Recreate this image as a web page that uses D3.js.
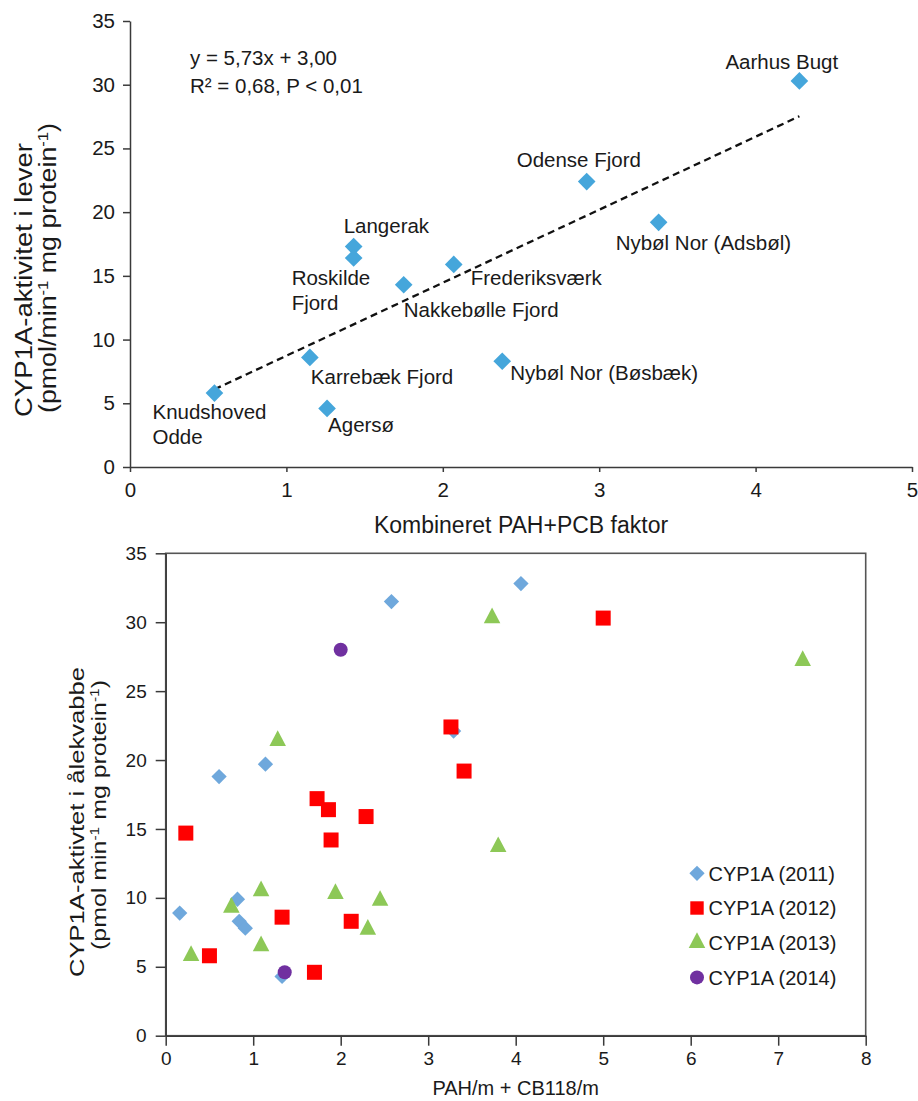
<!DOCTYPE html>
<html>
<head>
<meta charset="utf-8">
<script src="https://cdn.jsdelivr.net/npm/d3@7"></script>
<style>
  body { margin: 0; background: #fff; }
  svg { font-family: "Liberation Sans", Arial, sans-serif; }
</style>
</head>
<body>
<script>
// ---- top chart data (CYP1A in liver vs combined factor)
var sites = ["Aarhus Bugt", "Odense Fjord", "Nybøl Nor (Adsbøl)", "Langerak", "Roskilde Fjord",
             "Nakkebølle Fjord", "Frederiksværk", "Karrebæk Fjord", "Knudshoved Odde", "Agersø",
             "Nybøl Nor (Bøsbæk)"];
var factor = [4.28, 2.92, 3.38, 1.43, 1.43, 1.75, 2.07, 1.15, 0.54, 1.26, 2.38];
var liverCyp = [30.3, 22.4, 19.2, 17.3, 16.4, 14.3, 15.9, 8.6, 5.8, 4.6, 8.3];
var slope = 5.73, intercept = 3.00;
var eqLines = ["y = 5,73x + 3,00", "R² = 0,68, P < 0,01"];

// ---- bottom chart data (CYP1A in eelpout by year)
var years = ["2011", "2012", "2013", "2014"];
var x2011 = [2.58, 4.06, 0.61, 1.14, 3.29, 0.16, 0.82, 0.84, 0.91, 1.33];
var y2011 = [31.5, 32.8, 18.8, 19.7, 22.1, 8.9, 9.9, 8.3, 7.8, 4.3];
var x2012 = [5.0, 3.26, 3.41, 1.73, 1.86, 2.29, 1.89, 0.23, 1.33, 2.12, 0.5, 1.7];
var y2012 = [30.3, 22.4, 19.2, 17.2, 16.4, 15.9, 14.2, 14.7, 8.6, 8.3, 5.8, 4.6];
var x2013 = [3.73, 7.28, 1.28, 3.8, 1.09, 1.94, 2.45, 0.75, 2.31, 1.09, 0.29];
var y2013 = [30.3, 27.2, 21.4, 13.7, 10.5, 10.3, 9.8, 9.3, 7.7, 6.5, 5.8];
var x2014 = [2.0, 1.36];
var y2014 = [28.0, 4.6];

var xTicksTop = [0, 1, 2, 3, 4, 5];
var xTicksBottom = [0, 1, 2, 3, 4, 5, 6, 7, 8];
var yTicks = [0, 5, 10, 15, 20, 25, 30, 35];

// label placement, offsets from the marker in px
var labelPos = {
  "Aarhus Bugt": { dx: -74, dy: -12, lines: ["Aarhus Bugt"] },
  "Odense Fjord": { dx: -70, dy: -15, lines: ["Odense Fjord"] },
  "Nybøl Nor (Adsbøl)": { dx: -43, dy: 28, lines: ["Nybøl Nor (Adsbøl)"] },
  "Langerak": { dx: -10, dy: -14, lines: ["Langerak"] },
  "Roskilde Fjord": { dx: -62, dy: 27, lines: ["Roskilde", "Fjord"] },
  "Nakkebølle Fjord": { dx: 0, dy: 32, lines: ["Nakkebølle Fjord"] },
  "Frederiksværk": { dx: 17, dy: 21, lines: ["Frederiksværk"] },
  "Karrebæk Fjord": { dx: 1, dy: 27, lines: ["Karrebæk Fjord"] },
  "Knudshoved Odde": { dx: -62, dy: 26, lines: ["Knudshoved", "Odde"] },
  "Agersø": { dx: 1, dy: 24, lines: ["Agersø"] },
  "Nybøl Nor (Bøsbæk)": { dx: 8, dy: 19, lines: ["Nybøl Nor (Bøsbæk)"] }
};

var width = 918, height = 1101;
var axisColor = "#3a3a3a";

var svg = d3.select("body").append("svg")
  .attr("width", width)
  .attr("height", height);

// diamond = square turned 45 degrees
function diamondPath(size) { return d3.symbol(d3.symbolSquare, size)(); }

// triangle a bit taller than equilateral, centred on its centroid
var triangleType = {
  draw: function (ctx, size) {
    var w = Math.sqrt(size) * 1.45, h = Math.sqrt(size) * 1.38;
    ctx.moveTo(0, -h * 2 / 3);
    ctx.lineTo(w / 2, h / 3);
    ctx.lineTo(-w / 2, h / 3);
    ctx.closePath();
  }
};

function styleAxis(g, fontSize) {
  g.selectAll("path, line").attr("stroke", axisColor).attr("stroke-width", 1.5);
  g.selectAll("text").attr("fill", "#1a1a1a").attr("font-size", fontSize)
    .attr("font-family", "'Liberation Sans', Arial, sans-serif");
}

// ================= TOP CHART =================
var xTop = d3.scaleLinear().domain([0, 5]).range([130, 912]);
var yTop = d3.scaleLinear().domain([0, 35]).range([467, 21]);

var topG = svg.append("g");

topG.append("g")
  .attr("transform", "translate(0,467)")
  .call(d3.axisBottom(xTop).tickValues(xTicksTop).tickFormat(d3.format("d"))
    .tickSize(5).tickSizeOuter(0).tickPadding(10))
  .call(styleAxis, 20.5);

topG.append("g")
  .attr("transform", "translate(130,0)")
  .call(d3.axisLeft(yTop).tickValues(yTicks).tickFormat(d3.format("d"))
    .tickSize(7).tickSizeOuter(0).tickPadding(8))
  .call(styleAxis, 20.5);

// regression line over the data range
var xMin = d3.min(factor), xMax = d3.max(factor);
topG.append("line")
  .attr("x1", xTop(xMin)).attr("y1", yTop(slope * xMin + intercept))
  .attr("x2", xTop(xMax)).attr("y2", yTop(slope * xMax + intercept))
  .attr("stroke", "#111").attr("stroke-width", 2.3)
  .attr("stroke-dasharray", "7,4.5");

topG.append("g").selectAll("path")
  .data(sites)
  .join("path")
  .attr("d", diamondPath(156))
  .attr("transform", function (d, i) {
    return "translate(" + xTop(factor[i]) + "," + yTop(liverCyp[i]) + ") rotate(45)";
  })
  .attr("fill", "#45A6DB");

var labels = topG.append("g").selectAll("text")
  .data(sites)
  .join("text")
  .attr("font-size", 20.5)
  .attr("fill", "#1a1a1a")
  .attr("x", function (d, i) { return xTop(factor[i]) + labelPos[d].dx; })
  .attr("y", function (d, i) { return yTop(liverCyp[i]) + labelPos[d].dy; });

labels.each(function (d) {
  var t = d3.select(this), x0 = +t.attr("x");
  labelPos[d].lines.forEach(function (ln, k) {
    t.append("tspan").attr("x", x0).attr("dy", k ? 24.5 : 0).text(ln);
  });
});

topG.append("g").selectAll("text")
  .data(eqLines)
  .join("text")
  .attr("x", 190)
  .attr("y", function (d, i) { return 65 + i * 28; })
  .attr("font-size", 20.5)
  .attr("fill", "#1a1a1a")
  .text(function (d) { return d; });

topG.append("text")
  .attr("x", 521).attr("y", 533)
  .attr("text-anchor", "middle")
  .attr("font-size", 23)
  .attr("fill", "#1a1a1a")
  .text("Kombineret PAH+PCB faktor");

// y title, two rotated lines with superscripts
function supText(g, parts, x, yBottom, len, fs) {
  var t = g.append("text")
    .attr("transform", "translate(" + x + "," + yBottom + ") rotate(-90)")
    .attr("font-size", fs)
    .attr("fill", "#1a1a1a")
    .attr("textLength", len)
    .attr("lengthAdjust", "spacingAndGlyphs");
  parts.forEach(function (p) {
    var s = t.append("tspan").text(p[0]);
    if (p[1]) s.attr("baseline-shift", "super").attr("font-size", fs * 0.62);
  });
}

supText(topG, [["CYP1A-aktivitet i lever"]], 32, 417, 274, 23);
supText(topG, [["(pmol/min"], ["-1", true], [" mg protein"], ["-1", true], [")"]], 56, 413, 290, 23);

// ================= BOTTOM CHART =================
var xBot = d3.scaleLinear().domain([0, 8]).range([165.7, 865.7]);
var yBot = d3.scaleLinear().domain([0, 35]).range([1035.7, 553.3]);

var bot = svg.append("g");

bot.append("rect")
  .attr("x", xBot(0)).attr("y", yBot(35))
  .attr("width", xBot(8) - xBot(0)).attr("height", yBot(0) - yBot(35))
  .attr("fill", "none").attr("stroke", "#555").attr("stroke-width", 1.6);

bot.append("g")
  .attr("transform", "translate(0," + yBot(0) + ")")
  .call(d3.axisBottom(xBot).tickValues(xTicksBottom).tickFormat(d3.format("d"))
    .tickSize(10).tickSizeOuter(0).tickPadding(6))
  .call(styleAxis, 19);

bot.append("g")
  .attr("transform", "translate(" + xBot(0) + ",0)")
  .call(d3.axisLeft(yBot).tickValues(yTicks).tickFormat(d3.format("d"))
    .tickSize(10).tickSizeOuter(0).tickPadding(9))
  .call(styleAxis, 19);

var series = [
  { year: years[0], xs: x2011, ys: y2011, color: "#6FA8DC", sym: "diamond" },
  { year: years[1], xs: x2012, ys: y2012, color: "#FF0000", sym: "square" },
  { year: years[2], xs: x2013, ys: y2013, color: "#8DC857", sym: "triangle" },
  { year: years[3], xs: x2014, ys: y2014, color: "#7030A0", sym: "circle" }
];

function markerPath(sym, legend) {
  if (sym === "diamond") return diamondPath(117);
  if (sym === "square") return d3.symbol(d3.symbolSquare, legend ? 180 : 225)();
  if (sym === "triangle") return d3.symbol(triangleType, 130)();
  return d3.symbol(d3.symbolCircle, Math.PI * 49)();
}

series.forEach(function (s) {
  bot.append("g").selectAll("path")
    .data(s.xs)
    .join("path")
    .attr("d", markerPath(s.sym))
    .attr("transform", function (d, i) {
      return "translate(" + xBot(d) + "," + yBot(s.ys[i]) + ")" + (s.sym === "diamond" ? " rotate(45)" : "");
    })
    .attr("fill", s.color);
});

// legend
var legend = bot.append("g").selectAll("g")
  .data(series)
  .join("g")
  .attr("transform", function (d, i) { return "translate(697," + (873.3 + i * 34.7) + ")"; });

legend.append("path")
  .attr("d", function (d) { return markerPath(d.sym, true); })
  .attr("transform", function (d) { return d.sym === "diamond" ? "rotate(45)" : null; })
  .attr("fill", function (d) { return d.color; });

legend.append("text")
  .attr("x", 11.5).attr("dy", "0.36em")
  .attr("font-size", 20)
  .attr("fill", "#1a1a1a")
  .text(function (d) { return "CYP1A (" + d.year + ")"; });

bot.append("text")
  .attr("x", (xBot(0) + xBot(8)) / 2).attr("y", 1095)
  .attr("text-anchor", "middle")
  .attr("font-size", 20)
  .attr("fill", "#1a1a1a")
  .text("PAH/m + CB118/m");

supText(bot, [["CYP1A-aktivtet i ålekvabbe"]], 84, 977, 310, 20.5);
supText(bot, [["(pmol min"], ["-1", true], [" mg protein"], ["-1", true], [")"]], 106, 950, 270, 20.5);
</script>
</body>
</html>
